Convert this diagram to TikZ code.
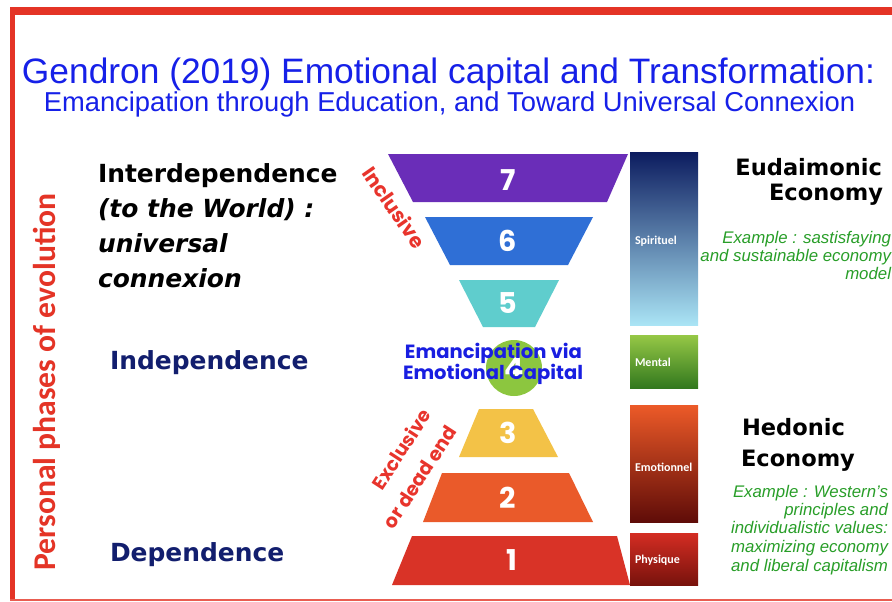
\documentclass[tikz,border=0pt]{standalone}
\usepackage{fontspec}
\setmainfont{Liberation Sans}
\newfontfamily\dvs{DejaVu Sans}
\newfontfamily\popf{Poppins}
\newfontfamily\carf{Carlito}
\newcommand\myfs[1]{\fontsize{#1}{#1}\selectfont}
\definecolor{titleblue}{RGB}{22,32,232}
\definecolor{navytxt}{RGB}{18,30,110}
\definecolor{framered}{RGB}{228,52,38}
\definecolor{handred}{RGB}{232,52,44}
\definecolor{egreen}{RGB}{40,158,40}
\definecolor{cseven}{RGB}{106,45,184}
\definecolor{csix}{RGB}{47,111,214}
\definecolor{cfive}{RGB}{95,205,205}
\definecolor{cfour}{RGB}{140,198,63}
\definecolor{cthree}{RGB}{243,194,71}
\definecolor{ctwo}{RGB}{234,90,42}
\definecolor{cone}{RGB}{217,51,39}
\definecolor{embl}{RGB}{25,30,225}
\begin{document}
\begin{tikzpicture}[x=0.75pt,y=-0.75pt,
  lbl/.style={inner sep=0pt, outer sep=0pt},
  numlbl/.style={lbl, text=white, font=\popf\bfseries\myfs{21.5pt}},
  phase/.style={lbl, anchor=base west, font=\dvs\bfseries\myfs{18.7pt}},
  econ/.style={lbl, font=\dvs\bfseries\myfs{16.9pt}},
  ex/.style={lbl, anchor=base east, text=egreen, font=\itshape\myfs{12.6pt}},
  barbox/.style={lbl, minimum width=51pt},
  barlbl/.style={lbl, anchor=west, text=white, font=\carf\bfseries\myfs{9pt}},
  hand/.style={lbl, text=handred, font=\popf\bfseries}]
\useasboundingbox (0,0) rectangle (892,601);
\fill[white] (0,0) rectangle (892,601);
% frame
\fill[framered] (10,7) rectangle (892,15);
\fill[framered] (10,7) rectangle (15,601);
\fill[framered!80] (10,598.5) rectangle (892,601);
% title
\node[lbl, anchor=base, text=titleblue, font=\myfs{26.5pt}] (t1) at (448.5,83)
  {Gendron (2019) Emotional capital and Transformation:};
\node[lbl, anchor=base, text=titleblue, font=\myfs{20.5pt}] (t2) at (449.5,111)
  {Emancipation through Education, and Toward Universal Connexion};
% vertical label
\node[lbl, rotate=90, text=framered, font=\carf\bfseries] (vert) at (47,382)
  {\resizebox{282.75pt}{!}{Personal phases of evolution}};
% phases
\node[phase] (inter1) at (98,182) {Interdependence};
\node[phase, font=\dvs\bfseries\itshape\myfs{18.7pt}] (inter2) at (98,217) {(to the World) :};
\node[phase, font=\dvs\bfseries\itshape\myfs{18.7pt}] (inter3) at (98,252) {universal};
\node[phase, font=\dvs\bfseries\itshape\myfs{18.7pt}] (inter4) at (98,287) {connexion};
\node[phase, text=navytxt] (indep) at (110,369) {Independence};
\node[phase, text=navytxt] (dep) at (110,561) {Dependence};
% funnel
\fill[cseven] (388,154) -- (628,154) -- (607,202) -- (413,202) -- cycle;
\fill[csix] (425,217) -- (593,217) -- (568,265) -- (450,265) -- cycle;
\fill[cfive] (459,280) -- (559,280) -- (535,327) -- (483,327) -- cycle;
\fill[cfour] (514,368) circle[radius=28];
\fill[cthree] (479,409) -- (533,409) -- (558,457) -- (459,457) -- cycle;
\fill[ctwo] (442,473) -- (569,473) -- (593,522) -- (423,522) -- cycle;
\fill[cone] (412,536) -- (617,536) -- (630,585) -- (392,585) -- cycle;
\node[numlbl] (n7) at (508,180) {7};
\node[numlbl] (n6) at (508,241) {6};
\node[numlbl] (n5) at (508,303) {5};
\node[numlbl] (n4) at (514,368) {4};
\node[numlbl] (n3) at (508,433) {3};
\node[numlbl] (n2) at (508,498) {2};
\node[numlbl] (n1) at (512,560) {1};
% emancipation text
\node[lbl, text=embl, font=\popf\bfseries] (em1) at (493.5,353)
  {\resizebox{132.75pt}{11.5pt}{Emancipation via}};
\node[lbl, text=embl, font=\popf\bfseries] (em2) at (493,374)
  {\resizebox{135pt}{11.5pt}{Emotional Capital}};
% hand labels
\node[hand, rotate=-55] (incl) at (394.5,207.5) {\resizebox{70pt}{!}{Inclusive}};
\node[hand, rotate=57] (excl) at (401,449) {\resizebox{68pt}{!}{Exclusive}};
\node[hand, rotate=57] (dead) at (420,477) {\resizebox{88pt}{!}{or dead end}};
% bars
\node[barbox, minimum height=129.75pt, top color={rgb,255:red,12;green,28;blue,95},
  middle color={rgb,255:red,45;green,95;blue,170}, bottom color={rgb,255:red,170;green,228;blue,245}]
  (spir) at (664,238.5) {};
\node[barbox, minimum height=39.75pt, top color={rgb,255:red,150;green,200;blue,70},
  bottom color={rgb,255:red,50;green,120;blue,30}] (ment) at (664,361.5) {};
\node[barbox, minimum height=87.75pt, top color={rgb,255:red,236;green,90;blue,40},
  middle color={rgb,255:red,200;green,50;blue,25}, bottom color={rgb,255:red,95;green,12;blue,8}]
  (emot) at (664,463.5) {};
\node[barbox, minimum height=39pt, top color={rgb,255:red,212;green,45;blue,35},
  bottom color={rgb,255:red,120;green,18;blue,12}] (phys) at (664,559) {};
\node[barlbl] (lspir) at (635,241) {Spirituel};
\node[barlbl] (lment) at (635,362) {Mental};
\node[barlbl] (lemot) at (635,467) {Emotionnel};
\node[barlbl] (lphys) at (635,560) {Physique};
% economies
\node[econ, anchor=base east] (eud1) at (882,175) {Eudaimonic};
\node[econ, anchor=base east] (eud2) at (883,200) {Economy};
\node[ex] (g1) at (891,243) {Example : sastisfaying};
\node[ex] (g2) at (891,261) {and sustainable economy};
\node[ex] (g3) at (891,279) {model};
\node[econ, anchor=base west] (hed1) at (742,435) {Hedonic};
\node[econ, anchor=base west] (hed2) at (741,466) {Economy};
\node[ex] (h1) at (888,497) {Example : Western's};
\node[ex] (h2) at (888,515) {principles and};
\node[ex] (h3) at (888,533) {individualistic values:};
\node[ex] (h4) at (888,552) {maximizing economy};
\node[ex] (h5) at (888,571) {and liberal capitalism};
\end{tikzpicture}
\end{document}
